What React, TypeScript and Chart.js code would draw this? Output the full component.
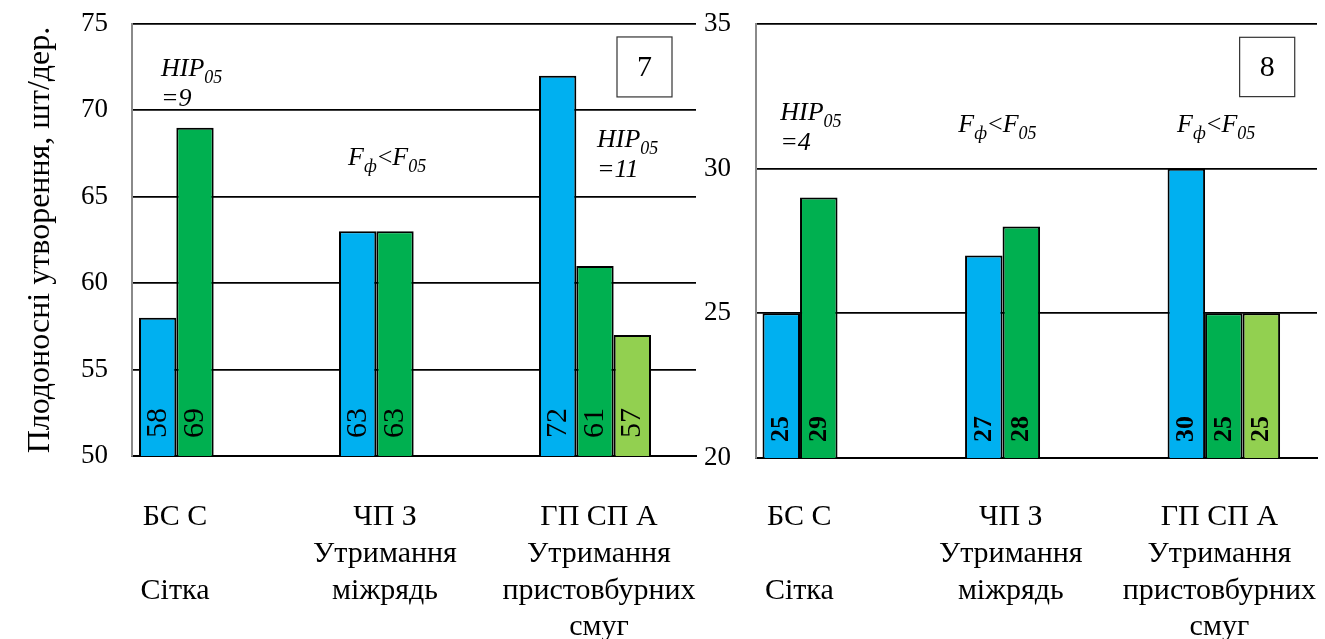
import React, { useEffect, useRef } from "react";
import { Chart, registerables } from "chart.js";

Chart.register(...registerables);

const FONT = '"Liberation Serif", "Times New Roman", Times, serif';

// ---------- data ----------
const categories: string[][] = [
  ["БС С", "", "Сітка"],
  ["ЧП З", "Утримання", "міжрядь"],
  ["ГП СП А", "Утримання", "пристовбурних", "смуг"],
];

const panel7Blue: (number | null)[] = [58, 63, 72];
const panel7Green: (number | null)[] = [69, 63, 61];
const panel7Light: (number | null)[] = [null, null, 57];

const panel8Blue: (number | null)[] = [25, 27, 30];
const panel8Green: (number | null)[] = [29, 28, 25];
const panel8Light: (number | null)[] = [null, null, 25];

const panel7YRange = [50, 75];
const panel8YRange = [20, 35];
const yStep = 5;

const yTitle = "Плодоносні утворення, шт/дер.";
const panel7Number = "7";
const panel8Number = "8";
const hip7First = "9";
const hip7Third = "11";
const hip8First = "4";

const seriesColors = ["#00B0F0", "#00B050", "#92D050"];

// ---------- helpers ----------
type Part = { t: string; sub?: boolean; upright?: boolean };
type Note = { x: number; y: number; lines: Part[][] };
type Box = { x0: number; x1: number; y0: number; y1: number; text: string };

const hipLines = (v: string): Part[][] => [
  [{ t: "HIP" }, { t: "05", sub: true }],
  [{ t: "=" + v }],
];
const fLines: Part[][] = [
  [{ t: "F" }, { t: "ф", sub: true }, { t: "<", upright: true }, { t: "F" }, { t: "05", sub: true }],
];

const toPoints = (vals: (number | null)[]) =>
  vals
    .map((v, i) => (v == null ? null : { x: i, y: v }))
    .filter((p) => p !== null) as { x: number; y: number }[];

const barValuesPlugin = {
  id: "barValues",
  afterDatasetsDraw(chart: any, _a: any, opts: any) {
    const { ctx } = chart;
    const yScale = chart.scales.y;
    const base = yScale.getPixelForValue(yScale.min);
    chart.data.datasets.forEach((ds: any, di: number) => {
      const meta = chart.getDatasetMeta(di);
      meta.data.forEach((bar: any, i: number) => {
        const raw = ds.data[i]?.y;
        if (raw == null) return;
        ctx.save();
        ctx.translate(bar.x, base - opts.lift);
        ctx.rotate(-Math.PI / 2);
        ctx.font = `${opts.weight} ${opts.size}px ${FONT}`;
        ctx.textAlign = "left";
        ctx.textBaseline = "middle";
        ctx.fillStyle = "#000";
        ctx.fillText(String(raw), 0, 0);
        ctx.restore();
      });
    });
  },
};

const notesPlugin = {
  id: "notes",
  afterDraw(chart: any, _a: any, opts: any) {
    const { ctx } = chart;
    const xs = chart.scales.x;
    const ys = chart.scales.y;
    ctx.save();
    ctx.fillStyle = "#000";
    ctx.textBaseline = "alphabetic";
    ctx.textAlign = "left";
    (opts.notes || []).forEach((n: Note) => {
      const px = xs.getPixelForValue(n.x);
      const py = ys.getPixelForValue(n.y);
      n.lines.forEach((line, li) => {
        let cx = px;
        const by = py + li * opts.lineGap;
        line.forEach((p) => {
          const size = p.sub ? opts.subSize : opts.size;
          ctx.font = `${p.upright ? "" : "italic "}${size}px ${FONT}`;
          ctx.fillText(p.t, cx, by + (p.sub ? opts.subDrop : 0));
          cx += ctx.measureText(p.t).width + (p.sub ? 1 : 0);
        });
      });
    });
    (opts.boxes || []).forEach((b: Box) => {
      const x0 = xs.getPixelForValue(b.x0);
      const x1 = xs.getPixelForValue(b.x1);
      const y0 = ys.getPixelForValue(b.y0);
      const y1 = ys.getPixelForValue(b.y1);
      ctx.fillStyle = "#fff";
      ctx.fillRect(x0, y0, x1 - x0, y1 - y0);
      ctx.strokeStyle = "#333";
      ctx.lineWidth = 1.2;
      ctx.strokeRect(x0, y0, x1 - x0, y1 - y0);
      ctx.fillStyle = "#000";
      ctx.font = `${opts.boxSize}px ${FONT}`;
      ctx.textAlign = "center";
      ctx.textBaseline = "middle";
      ctx.fillText(b.text, (x0 + x1) / 2, (y0 + y1) / 2 + 1);
      ctx.textAlign = "left";
      ctx.textBaseline = "alphabetic";
    });
    ctx.restore();
  },
};

type Panel = {
  blue: (number | null)[];
  green: (number | null)[];
  light: (number | null)[];
  yRange: number[];
  xMin: number;
  xMax: number;
  catPct: number;
  labelShift: number[];
  yWidth: number;
  xHeight: number;
  xTickPad: number;
  padTop: number;
  padRight: number;
  yTickPad: number;
  title: string | null;
  valueStyle: { weight: string; size: number; lift: number };
  notes: Note[];
  boxes: Box[];
};

function makeConfig(p: Panel): any {
  const ds = [p.blue, p.green, p.light].map((vals, k) => ({
    label: "s" + k,
    data: toPoints(vals),
    backgroundColor: seriesColors[k],
    borderColor: "#000",
    borderWidth: 2,
    borderSkipped: "bottom",
    categoryPercentage: p.catPct,
    barPercentage: 1,
  }));
  return {
    type: "bar",
    data: { datasets: ds },
    plugins: [barValuesPlugin, notesPlugin],
    options: {
      responsive: false,
      animation: false,
      events: [],
      layout: { padding: { top: p.padTop, right: p.padRight, left: 0, bottom: 0 } },
      plugins: {
        legend: { display: false },
        tooltip: { enabled: false },
        barValues: p.valueStyle,
        notes: {
          notes: p.notes,
          boxes: p.boxes,
          size: 26,
          subSize: 18,
          subDrop: 7,
          lineGap: 30,
          boxSize: 30,
        },
      },
      scales: {
        x: {
          type: "linear",
          min: p.xMin,
          max: p.xMax,
          offset: false,
          grid: { display: false },
          border: { display: true, color: "#000", width: 2 },
          afterBuildTicks: (scale: any) => {
            scale.ticks = categories.map((_c, i) => ({ value: i + p.labelShift[i] }));
          },
          afterFit: (scale: any) => {
            scale.height = p.xHeight;
            scale.paddingLeft = 0;
            scale.paddingRight = 0;
          },
          ticks: {
            autoSkip: false,
            maxRotation: 0,
            minRotation: 0,
            padding: p.xTickPad,
            color: "#000",
            font: { family: FONT, size: 30, lineHeight: 1.223 },
            callback: (_v: any, i: number) => categories[i],
          },
        },
        y: {
          type: "linear",
          min: p.yRange[0],
          max: p.yRange[1],
          grid: { color: "#000", lineWidth: 1.8, drawTicks: false },
          border: { display: true, color: "#8a8a8a", width: 2 },
          afterFit: (scale: any) => {
            scale.width = p.yWidth;
            scale.paddingTop = 0;
            scale.paddingBottom = 0;
          },
          ticks: {
            stepSize: yStep,
            padding: p.yTickPad,
            color: "#000",
            font: { family: FONT, size: 27 },
          },
          title: p.title
            ? {
                display: true,
                text: p.title,
                color: "#000",
                font: { family: FONT, size: 32 },
                padding: { top: 21, bottom: 0 },
              }
            : { display: false },
        },
      },
    },
  };
}

const panel7: Panel = {
  blue: panel7Blue,
  green: panel7Green,
  light: panel7Light,
  yRange: panel7YRange,
  xMin: -0.315,
  xMax: 2.505,
  catPct: 0.56,
  labelShift: [-0.1, -0.05, 0.02],
  yWidth: 132,
  xHeight: 183,
  xTickPad: 35,
  padTop: 24,
  padRight: 24,
  yTickPad: 24,
  title: yTitle,
  valueStyle: { weight: "normal", size: 30, lift: 18 },
  notes: [
    { x: -0.17, y: 72.0, lines: hipLines(hip7First) },
    { x: 0.765, y: 66.84, lines: fLines },
    { x: 2.01, y: 67.9, lines: hipLines(hip7Third) },
  ],
  boxes: [{ x0: 2.11, x1: 2.385, y0: 74.25, y1: 70.78, text: panel7Number }],
};

const panel8: Panel = {
  blue: panel8Blue,
  green: panel8Green,
  light: panel8Light,
  yRange: panel8YRange,
  xMin: -0.31,
  xMax: 2.46,
  catPct: 0.5556,
  labelShift: [-0.096, -0.052, -0.022],
  yWidth: 56,
  xHeight: 181,
  xTickPad: 33,
  padTop: 24,
  padRight: 8,
  yTickPad: 25,
  title: null,
  valueStyle: { weight: "bold", size: 26, lift: 16 },
  notes: [
    { x: -0.19, y: 31.68, lines: hipLines(hip8First) },
    { x: 0.689, y: 31.27, lines: fLines },
    { x: 1.769, y: 31.27, lines: fLines },
  ],
  boxes: [{ x0: 2.078, x1: 2.35, y0: 34.54, y1: 32.49, text: panel8Number }],
};

function PanelChart({ panel, left, width }: { panel: Panel; left: number; width: number }) {
  const ref = useRef<HTMLCanvasElement | null>(null);
  useEffect(() => {
    if (!ref.current) return;
    const chart = new Chart(ref.current, makeConfig(panel));
    return () => chart.destroy();
  }, [panel]);
  return (
    <canvas
      ref={ref}
      width={width}
      height={639}
      style={{ position: "absolute", left, top: 0, width, height: 639 }}
    />
  );
}

export default function App() {
  return (
    <div style={{ position: "absolute", left: 0, top: 0, width: 1325, height: 639, background: "#fff" }}>
      <PanelChart panel={panel7} left={0} width={720} />
      <PanelChart panel={panel8} left={700} width={625} />
    </div>
  );
}
